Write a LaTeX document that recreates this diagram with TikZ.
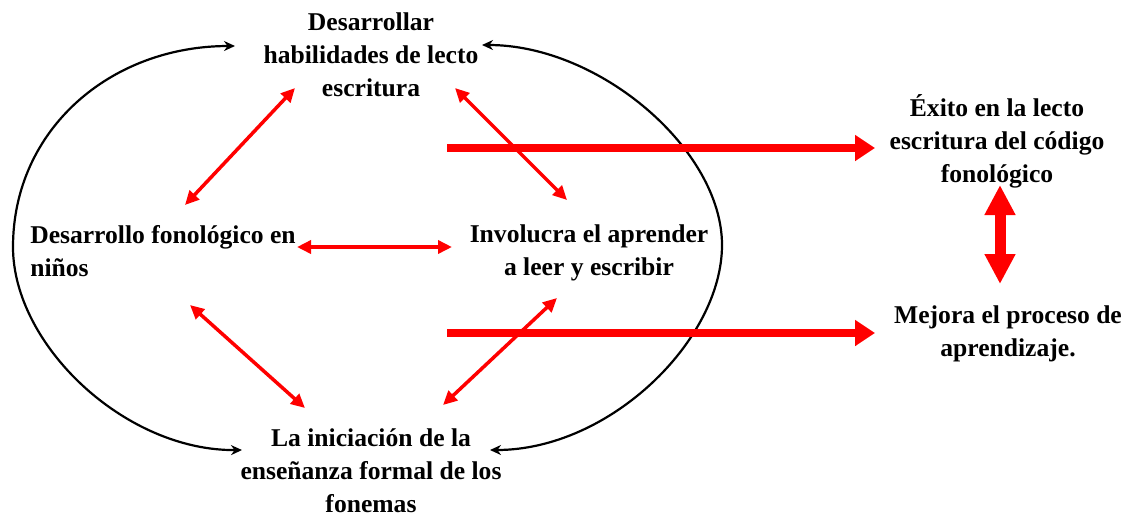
\documentclass[tikz,border=0pt]{standalone}
\usepackage{fontspec}
\setmainfont{Liberation Serif}
\usetikzlibrary{arrows.meta,calc}

\begin{document}
\begin{tikzpicture}[x=0.5pt,y=-0.5pt,
    txt/.style={font=\bfseries\fontsize{12.8}{16.5}\selectfont,align=center,inner sep=0pt},
    rojo/.style={draw=red,line width=1.75pt,{Triangle[length=7pt,width=6.5pt]}-{Triangle[length=7pt,width=6.5pt]}},
    grueso/.style={draw=red,line width=4pt,-{Triangle[length=10pt,width=12.5pt]}},
    curva/.style={draw=black,line width=1.1pt,{Stealth[length=5.5pt,width=5pt]}-{Stealth[length=5.5pt,width=5pt]}}]
      \useasboundingbox (0,0) rectangle (1130,516) ;
      % textos
      \node[txt] (hab) at (371,55) {Desarrollar\\habilidades de lecto\\escritura} ;
      \node[txt,align=left] (fon) at (163,251) {Desarrollo fonológico en\\niños} ;
      \node[txt] (inv) at (589,253) {Involucra el aprender\\a leer y escribir} ;
      \node[txt] (ini) at (371,471) {La iniciación de la\\enseñanza formal de los\\fonemas} ;
      \node[txt] (exi) at (997,141) {Éxito en la lecto\\escritura del código\\fonológico} ;
      \node[txt] (mej) at (1008,334) {Mejora el proceso de\\aprendizaje.} ;
      % ciclo
      \coordinate (izq) at (13,247) ;
      \coordinate (der) at (722,245) ;
      \draw[curva] ($(hab)+(-136,-9)$) .. controls (110,46) and (13,130) .. (izq)
        .. controls (13,345) and (125,451) .. ($(ini)+(-129,-21)$) ;
      \draw[curva] ($(hab)+(111,-10)$) .. controls (600,45) and (722,150) .. (der)
        .. controls (722,340) and (610,450) .. ($(ini)+(119,-21)$) ;
      % relaciones
      \draw[rojo] ($(hab)+(-76,33)$) -- ($(fon)+(22,-46)$) ;
      \draw[rojo] ($(hab)+(84,33)$) -- ($(inv)+(-22,-53)$) ;
      \draw[rojo] ($(fon)+(134,-4)$) -- ($(inv)+(-137,-6)$) ;
      \draw[rojo] ($(fon)+(27,54)$) -- ($(ini)+(-66,-63)$) ;
      \draw[rojo] ($(inv)+(-32,45)$) -- ($(ini)+(72,-66)$) ;
      % resultados
      \coordinate (s1) at (447,148) ;
      \coordinate (s2) at (447,333) ;
      \draw[grueso] (s1) -- ($(exi)+(-122,7)$) ;
      \draw[grueso] (s2) -- ($(mej)+(-133,-1)$) ;
      \draw[red,line width=5.5pt,{Triangle[length=15pt,width=14.5pt]}-{Triangle[length=15pt,width=14.5pt]}] %
      ($(exi)+(3,44)$) -- ($(mej)+(-8,-50)$) ;
    \end{tikzpicture}
\end{document}
